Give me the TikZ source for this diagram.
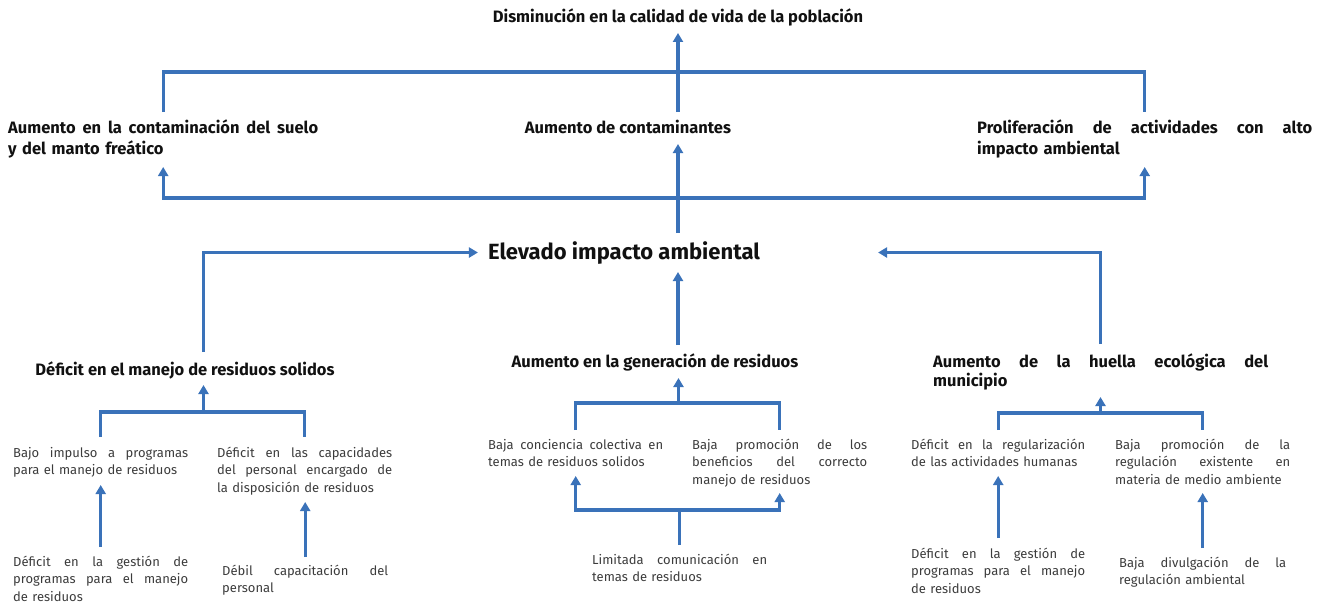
\documentclass[tikz,border=0pt]{standalone}
\usepackage{fontspec}
\setmainfont{Fira Sans}
\usepackage{xcolor}
\usepackage{tikz}
\usetikzlibrary{arrows.meta,positioning}
\definecolor{linkblue}{HTML}{3A72B9}
\definecolor{textgray}{HTML}{3C3C3C}
\definecolor{headblack}{HTML}{111111}
\newcommand{\spreadline}[1]{\leavevmode\hbox to \hsize{\spaceskip=\fontdimen2\font plus 1fil\relax #1}}

\begin{document}
\begin{tikzpicture}[x=1pt, y=-1pt,
  link/.style={draw=linkblue, line width=3.1pt},
  arr/.style={link, -{Triangle[length=9pt,width=10pt]}},
  effect/.style={font=\fontsize{16.5}{21}\selectfont\bfseries, text=headblack, inner sep=0pt},
  cause/.style={font=\fontsize{13}{17.5}\selectfont, text=textgray, inner sep=0pt,
    align=left, anchor=base west, text width=175pt},
]
\useasboundingbox (0,0) rectangle (1326,602);

% effects
\node[effect, anchor=base] (vida) at (678,23) {Disminución en la calidad de vida de la población};
\node[effect, anchor=base west, text width=310pt, align=left] (suelo) at (8,133)
  {\spreadline{Aumento en la contaminación del suelo}\\y del manto freático};
\node[effect, anchor=base] (cont) at (628,133) {Aumento de contaminantes};
\node[effect, anchor=base west, text width=335pt, align=left] (prolif) at (977,133)
  {\spreadline{Proliferación de actividades con alto}\\impacto ambiental};

% central problem
\node[effect, font=\fontsize{22}{26}\selectfont\bfseries, anchor=base] (elevado) at (624,259) {Elevado impacto ambiental};

% direct causes
\node[effect, anchor=base] (manejo) at (185,375) {Déficit en el manejo de residuos solidos};
\node[effect, anchor=base] (gener) at (655,367) {Aumento en la generación de residuos};
\node[effect, anchor=base west, text width=335pt, align=left, font=\fontsize{16.5}{19}\selectfont\bfseries] (huella) at (933,367)
  {\spreadline{Aumento de la huella ecológica del}\\municipio};

% secondary causes
\node[cause] (impulso) at (13,457) {\spreadline{Bajo impulso a programas}\\para el manejo de residuos};
\node[cause] (capac) at (217,457) {\spreadline{Déficit en las capacidades}\\\spreadline{del personal encargado de}\\la disposición de residuos};
\node[cause] (concien) at (488,449) {\spreadline{Baja conciencia colectiva en}\\temas de residuos solidos};
\node[cause] (promben) at (692,449) {\spreadline{Baja promoción de los}\\\spreadline{beneficios del correcto}\\manejo de residuos};
\node[cause, text width=174pt] (regul) at (911,449) {\spreadline{Déficit en la regularización}\\de las actividades humanas};
\node[cause] (promreg) at (1115,449) {\spreadline{Baja promoción de la}\\\spreadline{regulación existente en}\\materia de medio ambiente};

% root causes
\node[cause] (gestA) at (13,566) {\spreadline{Déficit en la gestión de}\\\spreadline{programas para el manejo}\\de residuos};
\node[cause, text width=166pt] (debil) at (222,575) {\spreadline{Débil capacitación del}\\personal};
\node[cause] (limit) at (592,564) {\spreadline{Limitada comunicación en}\\temas de residuos};
\node[cause, text width=174pt] (gestB) at (911,558) {\spreadline{Déficit en la gestión de}\\\spreadline{programas para el manejo}\\de residuos};
\node[cause, text width=167pt] (divul) at (1119,567) {\spreadline{Baja divulgación de la}\\regulación ambiental};

% junctions
\coordinate (barTop) at (678,72);
\coordinate (barLow) at (678,198);
\coordinate (jL) at (203.5,412);
\coordinate (jM) at (678.5,403);
\coordinate (jR) at (1100.5,413);

% effects tree
\draw[link] ([yshift=21pt]suelo.base) |- (barTop) -| ([yshift=21pt]prolif.base);
\draw[arr] ([yshift=21pt]cont.base -| barTop) -- ([yshift=-10pt]vida.base);
\draw[arr] (barLow) -| ([yshift=-34pt]suelo.base);
\draw[arr] (barLow) -| ([yshift=-34pt]prolif.base);
\draw[arr] ([yshift=26pt]elevado.base -| barLow) -- ([yshift=-11pt]cont.base -| barLow);

% causes into the problem
\draw[arr] ([yshift=23pt]manejo.base -| jL) |- ([xshift=-10pt]elevado.west);
\draw[arr] ([yshift=22pt]gener.base -| barLow) -- ([yshift=-13pt]elevado.base -| barLow);
\draw[arr] ([yshift=23pt]huella.base -| jR) |- ([xshift=118pt]elevado.east);

% brackets
\draw[link] ([yshift=20pt]impulso.base) |- (jL) -| ([yshift=20pt]capac.base);
\draw[arr] (jL) -- ([yshift=-10pt]manejo.base -| jL);
\draw[link] ([yshift=19pt]concien.base) |- (jM) -| ([yshift=19pt]promben.base);
\draw[arr] (jM) -- ([yshift=-11pt]gener.base -| jM);
\draw[link] ([yshift=19pt]regul.base) |- (jR) -| ([yshift=19pt]promreg.base);
\draw[arr] (jR) -- ([yshift=-30pt]huella.base -| jR);

% root causes
\draw[arr] ([yshift=19pt]gestA.base) -- ([yshift=-28pt]impulso.base);
\draw[arr] ([yshift=18pt]debil.base) -- ([yshift=-45pt]capac.base -| debil.base);
\draw[link] ([yshift=19pt]limit.base) -- ([yshift=54pt]limit.base) coordinate (jB);
\draw[arr] (jB) -| ([yshift=-27pt]concien.base);
\draw[arr] (jB) -| ([yshift=-44pt]promben.base);
\draw[arr] ([yshift=20pt]gestB.base) -- ([yshift=-27pt]regul.base);
\draw[arr] ([yshift=19pt]divul.base) -- ([yshift=-44pt]promreg.base -| divul.base);
\end{tikzpicture}
\end{document}
